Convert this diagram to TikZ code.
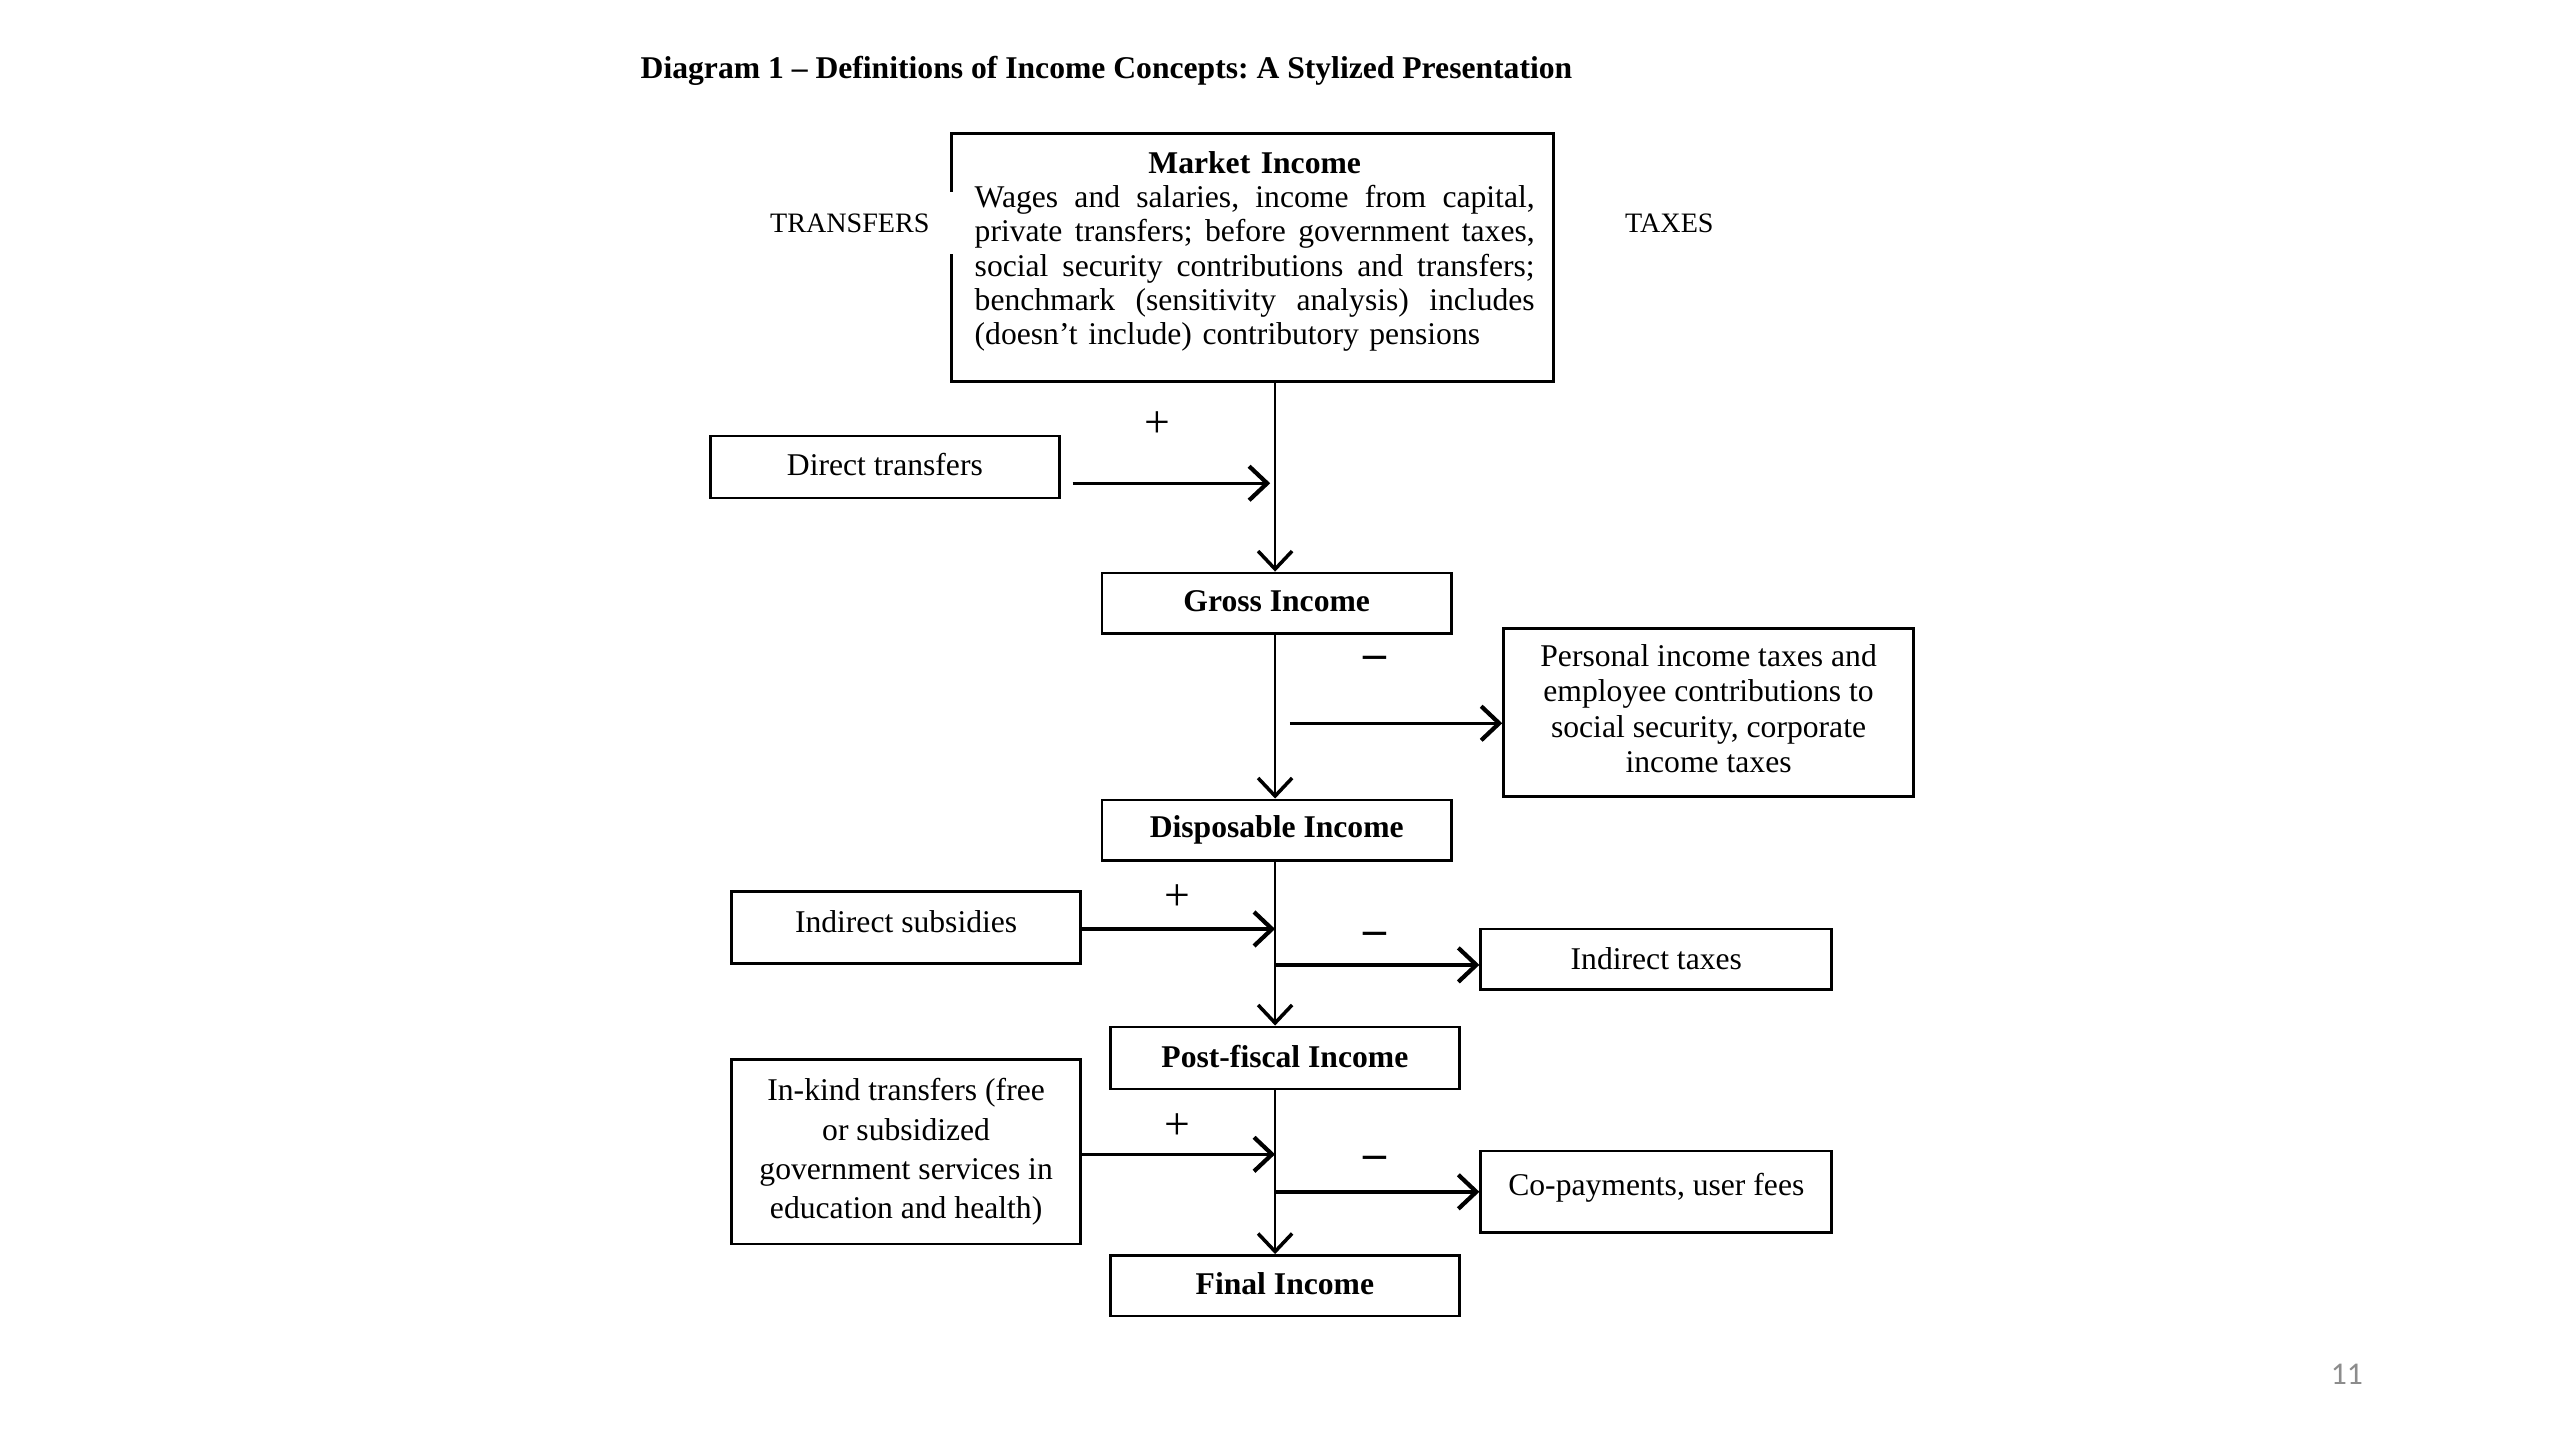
\documentclass[tikz,border=0pt]{standalone}
\usepackage{fontspec}
\setmainfont{Liberation Serif}
\newfontfamily\pagefont{Carlito}
\usetikzlibrary{arrows.meta,calc}
\newcommand\uu{0.01633cm}
\newcommand\jline[1]{\hbox to 5.60cm{#1}}
\frenchspacing
\begin{document}
\begin{tikzpicture}[x=0.01633cm,y=-0.01633cm,
  box/.style={draw, line width=0.8pt, inner sep=0pt, align=center,
    font=\fontsize{9}{10}\selectfont},
  trunk/.style={line width=0.6pt, -{Straight Barb[length=1.8mm,width=3.4mm,line width=1pt]}},
  side/.style={line width=0.95pt, -{Straight Barb[length=1.8mm,width=3.4mm,line width=1.2pt]}},
  plus/.style={font=\fontsize{13}{13}\selectfont, inner sep=0pt},
  minus/.style={font=\fontsize{13}{13}\selectfont\bfseries, inner sep=0pt},
  lbl/.style={font=\fontsize{8}{9}\selectfont, inner sep=0pt}]
\useasboundingbox[fill=white] (0,0) rectangle (1568,882);

% title
\node[anchor=west, inner sep=0pt, font=\fontsize{9}{10}\selectfont\bfseries] (title) at (392,43.5)
  {Diagram 1 -- Definitions of Income Concepts: A Stylized Presentation};

% side labels
\node[lbl] (transfers) at (520.5,137) {TRANSFERS};
\node[lbl] (taxes) at (1022.5,137) {TAXES};

% trunk x position
\coordinate (tx) at (781,0);

% market income box (left edge interrupted)
\node[inner sep=0pt, minimum width=368*\uu, minimum height=151*\uu] (market) at (767,157.5) {};
\draw[line width=0.8pt] ($(market.north west)+(0,36)$) -- (market.north west) -- (market.north east)
  -- (market.south east) -- (market.south west) -- ($(market.south west)+(0,-78)$);
\node[inner sep=0pt, text width=5.60cm, font=\fontsize{9}{9.76}\selectfont] (mtext) at (768.5,154)
  {\centering\textbf{Market Income}\par
   \jline{Wages \hfill and \hfill salaries, \hfill income \hfill from \hfill capital,}\par
   \jline{private \hfill transfers; \hfill before \hfill government \hfill taxes,}\par
   \jline{social \hfill security \hfill contributions \hfill and \hfill transfers;}\par
   \jline{benchmark \hfill (sensitivity \hfill analysis) \hfill includes}\par
   \hbox to 5.60cm{(doesn’t include) contributory pensions\hfil}\par};

% main column
\node[box, minimum width=214*\uu, minimum height=37*\uu] (gross) at (782,369.5) {\raisebox{1.2pt}{\textbf{Gross Income}}};
\node[box, minimum width=214*\uu, minimum height=37*\uu] (disp) at (782,508.5) {\raisebox{0.8pt}{\textbf{Disposable Income}}};
\node[box, minimum width=214*\uu, minimum height=38*\uu] (post) at (787,648) {\raisebox{0.8pt}{\textbf{Post-fiscal Income}}};
\node[box, minimum width=214*\uu, minimum height=37*\uu] (final) at (787,787.5) {\raisebox{1pt}{\textbf{Final Income}}};

% left boxes
\node[box, minimum width=214*\uu, minimum height=38*\uu] (direct) at (542,286) {\raisebox{1.4pt}{Direct transfers}};
\node[box, minimum width=214*\uu, minimum height=44*\uu] (indsub) at (555,568) {\raisebox{3.2pt}{Indirect subsidies}};
\node[box, minimum width=214*\uu, minimum height=113*\uu, font=\fontsize{9}{11.15}\selectfont] (inkind) at (555,705.5)
  {In-kind transfers (free\\or subsidized\\government services in\\education and health)};

% right boxes
\node[box, minimum width=251*\uu, minimum height=103*\uu, font=\fontsize{9}{10.1}\selectfont] (personal) at (1046.5,436.5)
  {\raisebox{1pt}{\begin{tabular}{@{}c@{}}Personal income taxes and\\employee contributions to\\social security, corporate\\income taxes\end{tabular}}};
\node[box, minimum width=215*\uu, minimum height=37*\uu] (indtax) at (1014.5,587.5) {\raisebox{0.5pt}{Indirect taxes}};
\node[box, minimum width=215*\uu, minimum height=50*\uu] (copay) at (1014.5,730) {\raisebox{4.1pt}{Co-payments, user fees}};

% signs
\node[plus] (p1) at (709,260) {+};
\node[minus] (m1) at (842,406) {–};
\node[plus] (p2) at (721,550) {+};
\node[minus] (m2) at (842,575) {–};
\node[plus] (p3) at (721,690) {+};
\node[minus] (m3) at (842,712) {–};

% trunk
\draw[trunk] (tx |- market.south) -- (tx |- gross.north);
\draw[trunk] (tx |- gross.south) -- (tx |- disp.north);
\draw[trunk] (tx |- disp.south) -- (tx |- post.north);
\draw[trunk] (tx |- post.south) -- (tx |- final.north);

% horizontal arrows
\coordinate (a1s) at (657,296);
\coordinate (a1e) at (778,296);
\draw[side] (a1s) -- (a1e);
\coordinate (a2s) at (790,443);
\draw[side] (a2s) -- (personal.west |- a2s);
\coordinate (a3) at (0,569);
\draw[side] (indsub.east |- a3) -- (tx |- a3);
\coordinate (a4) at (0,591);
\draw[side] (tx |- a4) -- (indtax.west |- a4);
\coordinate (a5) at (0,707);
\draw[side] (inkind.east |- a5) -- (tx |- a5);
\coordinate (a6) at (0,730);
\draw[side] (tx |- a6) -- (copay.west |- a6);

% page number
\node[inner sep=0pt, font=\fontsize{9}{10}\pagefont, text=black!45] (pagenum) at (1437.5,842) {11};
\end{tikzpicture}
\end{document}
